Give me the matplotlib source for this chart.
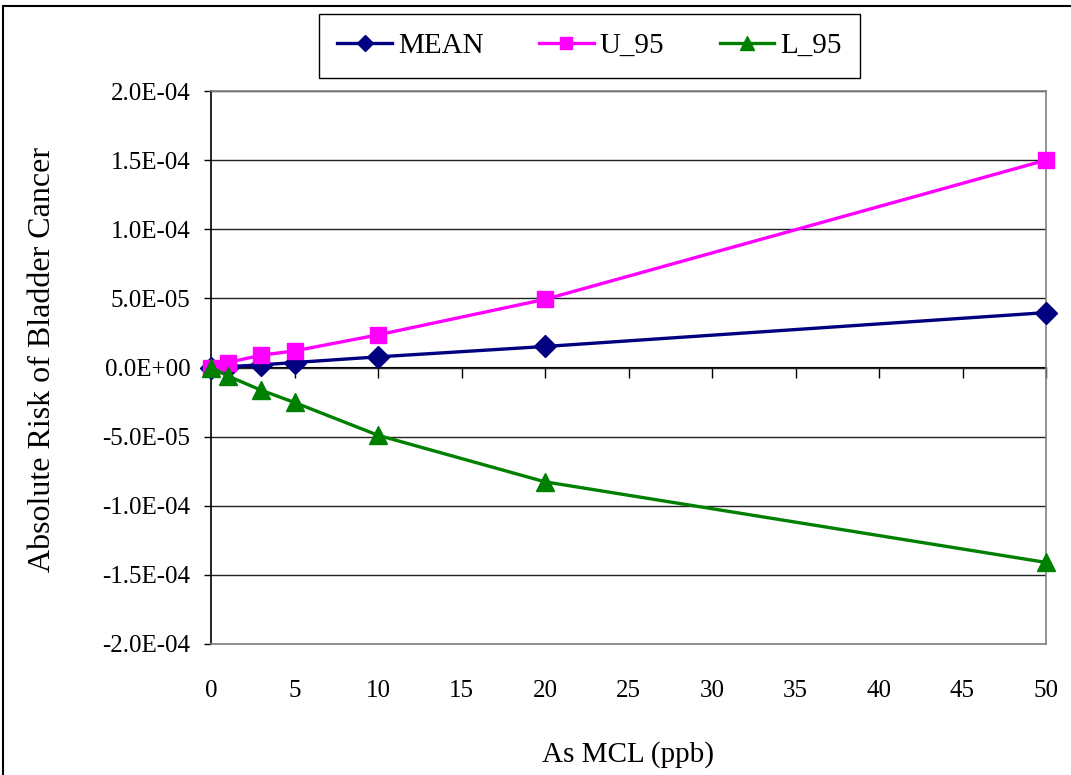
import numpy as np
import matplotlib
matplotlib.use("Agg")
import matplotlib.pyplot as plt
from matplotlib.patches import Rectangle
from matplotlib.ticker import FormatStrFormatter

# arsenic MCL (ppb) and absolute bladder cancer risk
mcl = [0, 1, 3, 5, 10, 20, 50]
risk_mean = [0.0, 0.6e-6, 1.9e-6, 3.6e-6, 7.7e-6, 1.52e-5, 3.97e-5]
risk_u95 = [0.0, 3.6e-6, 8.9e-6, 1.2e-5, 2.36e-5, 4.93e-5, 1.50e-4]
risk_l95 = [0.0, -6.1e-6, -1.64e-5, -2.53e-5, -4.9e-5, -8.27e-5, -1.41e-4]

x_ticks = list(range(0, 55, 5))
y_ticks = [-2e-4, -1.5e-4, -1e-4, -5e-5, 0, 5e-5, 1e-4, 1.5e-4, 2e-4]

plt.rcParams['font.family'] = ['Liberation Serif', 'DejaVu Serif']

fig = plt.figure(figsize=(10.71, 7.75), dpi=100)
ax = fig.add_axes([211 / 1071, 1 - 644 / 775, 835 / 1071, 553 / 775])

series = [
    ('MEAN', risk_mean, '#000080', 'D', 11),
    ('U_95', risk_u95, '#FF00FF', 's', 12),
    ('L_95', risk_l95, '#008000', '^', 13),
]
for name, vals, col, mk, ms in series:
    ax.plot(mcl, vals, color=col, lw=2.4, marker=mk, ms=ms,
            label=name, clip_on=False, zorder=5)

ax.set_xlim(0, 50)
ax.set_ylim(-2e-4, 2e-4)
ax.set_yticks(y_ticks)
ax.yaxis.set_major_formatter(FormatStrFormatter('%.1E'))
ax.grid(axis='y', color='#222222', lw=1.0)
ax.set_axisbelow(True)

for side in ['top', 'right', 'bottom']:
    ax.spines[side].set_color('#808080')
    ax.spines[side].set_linewidth(1.2)
ax.spines['left'].set_color('black')
ax.spines['left'].set_linewidth(1.2)

ax.tick_params(axis='y', direction='out', length=5, width=1,
               labelsize=18, pad=10)
# tick labels sit below the frame, the axis line itself runs along zero
ax.set_xticks(x_ticks)
ax.tick_params(axis='x', length=0, labelsize=18, pad=26)

zero_axis = ax.secondary_xaxis(0.5)
zero_axis.set_xticks(x_ticks)
zero_axis.set_xticklabels([])
zero_axis.tick_params(axis='x', direction='in', length=8, width=1,
                      labelbottom=False, labeltop=False)
zero_axis.spines['bottom'].set_color('black')
zero_axis.spines['bottom'].set_linewidth(1.2)

ax.set_xlabel('As MCL (ppb)', fontsize=21, labelpad=28)
ax.set_ylabel('Absolute Risk of Bladder Cancer', fontsize=23)
ax.yaxis.set_label_coords(-0.184, 0.515)

leg = fig.legend(loc='upper center', ncol=3,
                 bbox_to_anchor=(589.5 / 1071, 1 - 14 / 775),
                 fontsize=21, frameon=True, fancybox=False, framealpha=1,
                 edgecolor='black', borderpad=0.64, handlelength=1.88,
                 handletextpad=0.2, columnspacing=1.9, markerscale=0.75,
                 borderaxespad=0)
leg.get_frame().set_linewidth(1.0)

# chart border
fig.patches.append(Rectangle((3 / 1071, -0.1), 1.2, 1.1 - 6 / 775,
                             transform=fig.transFigure, fill=False,
                             ec='black', lw=1.5))

fig.savefig('out.png', dpi=100)
